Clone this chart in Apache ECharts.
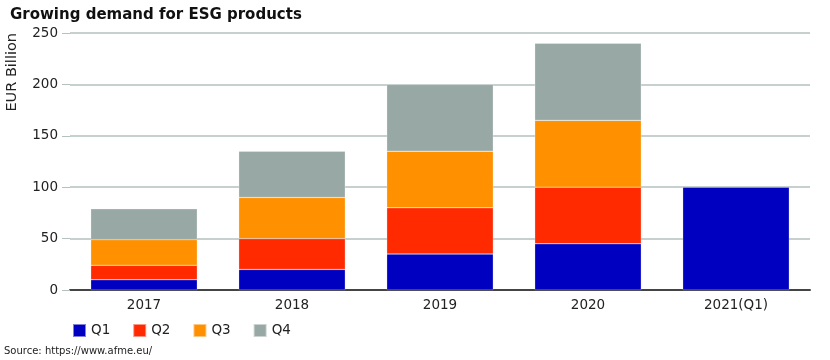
<!DOCTYPE html>
<html><head><meta charset="utf-8">
<script src="https://cdn.jsdelivr.net/npm/echarts@6/dist/echarts.min.js"></script>
<style>html,body{margin:0;padding:0;background:#fff}#c{width:830px;height:360px}</style>
</head><body><div id="c"></div>
<script>
const categories = ['2017','2018','2019','2020','2021(Q1)'];
const q1 = [10, 20, 35, 45, 100];
const q2 = [14, 30, 45, 55, null];
const q3 = [25, 40, 55, 65, null];
const q4 = [30, 45, 65, 75, null];
const seriesNames = ['Q1','Q2','Q3','Q4'];
const colors = ['#0000C0','#FF2A00','#FF9000','#98A8A5'];
const values = [q1,q2,q3,q4];
const font = '"DejaVu Sans", sans-serif';
const chart = echarts.init(document.getElementById('c'));
chart.setOption({
  animation:false,
  title:{text:'Growing demand for ESG products',left:5,top:3,textStyle:{fontFamily:font,fontWeight:'bold',fontSize:15,color:'#111'}},
  graphic:[{type:'text',left:4,top:346,style:{text:'Source: https://www.afme.eu/',fontFamily:font,fontSize:10,fill:'#222'}}],
  legend:{left:67,top:318,itemWidth:13,itemHeight:13,itemGap:22,icon:'rect',
    textStyle:{fontFamily:font,fontSize:13.5,color:'#222'},data:seriesNames},
  grid:{left:70,right:20,top:33,bottom:70},
  xAxis:{type:'category',data:categories,axisTick:{show:false},
    axisLine:{lineStyle:{color:'#444',width:2}},
    axisLabel:{fontFamily:font,fontSize:13.5,color:'#222',margin:8}},
  yAxis:{type:'value',min:0,max:250,interval:50,name:'EUR Billion',nameLocation:'end',nameRotate:90,
    nameGap:0,nameTextStyle:{fontFamily:font,fontSize:14.5,color:'#222',align:'right',verticalAlign:'bottom',padding:[0,0,50,0]},
    axisLabel:{fontFamily:font,fontSize:13.5,color:'#222',margin:12},
    axisTick:{show:true,length:8,lineStyle:{color:'#b3c1bf'}},
    splitLine:{lineStyle:{color:'#b3c1bf',width:1.5}}},
  series: values.map((v,i)=>({name:seriesNames[i],type:'bar',stack:'a',data:v,barWidth:'72%',
    itemStyle:{color:colors[i],borderColor:'rgba(255,255,255,0.5)',borderWidth:0.5}}))
});
</script></body></html>
